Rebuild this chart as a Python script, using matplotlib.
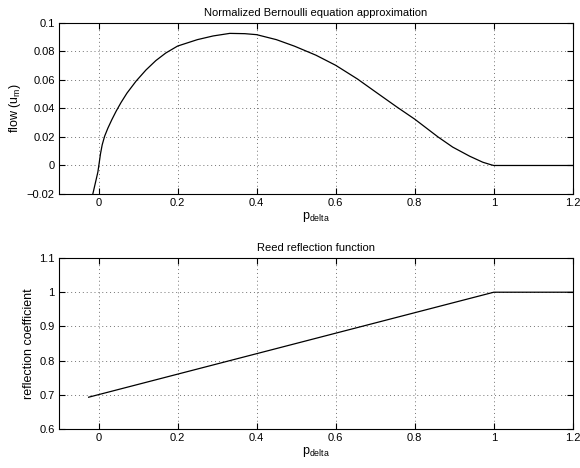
import matplotlib
matplotlib.use("Agg")
import matplotlib.pyplot as plt

# normalized Bernoulli flow
p_flow = [-0.026, -0.0144, -0.0017, 0.0008, 0.005, 0.0093, 0.0154, 0.0237, 0.0338, 0.0446,
          0.057, 0.072, 0.095, 0.12, 0.145, 0.17, 0.2, 0.25, 0.29, 0.332, 0.37, 0.4,
          0.45, 0.496, 0.55, 0.6, 0.655, 0.7, 0.755, 0.8, 0.859, 0.896, 0.939, 0.972,
          0.993, 1.0, 1.2]
u_flow = [-0.035, -0.02, -0.0047, 0.0, 0.0082, 0.0145, 0.0205, 0.0262, 0.0322, 0.0381,
          0.0442, 0.0508, 0.0592, 0.067, 0.0736, 0.0789, 0.0838, 0.0883, 0.0909, 0.0927,
          0.0925, 0.0918, 0.0883, 0.0837, 0.0774, 0.0703, 0.0607, 0.0518, 0.041, 0.0325,
          0.02, 0.0129, 0.0065, 0.0023, 0.0005, 0.0, 0.0]

# reed reflection coefficient
p_refl = [-0.025, 1.0, 1.2]
r_refl = [0.693, 1.0, 1.0]

plt.rcParams['font.family'] = ['Liberation Sans', 'DejaVu Sans']
plt.rcParams['mathtext.default'] = 'regular'
plt.rcParams['font.size'] = 8
plt.rcParams['axes.linewidth'] = 0.8

fig = plt.figure(figsize=(5.8, 4.68), dpi=100)
ax1 = fig.add_axes([0.1017, 0.5855, 0.886, 0.3654])
ax2 = fig.add_axes([0.1017, 0.0833, 0.886, 0.3654])


def matlab_style(ax):
    ax.tick_params(direction='in', top=True, right=True, length=4, width=0.8, pad=3,
                   labelsize=8)
    ax.grid(True, linestyle=(0, (1, 3)), color='0.45', linewidth=0.7)
    ax.set_axisbelow(True)


ax1.plot(p_flow, u_flow, color='k', linewidth=0.9)
ax1.set_xlim(-0.1, 1.2)
ax1.set_ylim(-0.02, 0.1)
ax1.set_xticks([0, 0.2, 0.4, 0.6, 0.8, 1, 1.2])
ax1.set_xticklabels(['0', '0.2', '0.4', '0.6', '0.8', '1', '1.2'])
ax1.set_yticks([-0.02, 0, 0.02, 0.04, 0.06, 0.08, 0.1])
ax1.set_yticklabels(['\u22120.02', '0', '0.02', '0.04', '0.06', '0.08', '0.1'])
ax1.set_title('Normalized Bernoulli equation approximation', fontsize=8, pad=5)
ax1.set_xlabel('p$_{delta}$', fontsize=9, labelpad=1)
ax1.set_ylabel('flow (u$_{m}$)', fontsize=9, labelpad=3)
matlab_style(ax1)

ax2.plot(p_refl, r_refl, color='k', linewidth=0.9)
ax2.set_xlim(-0.1, 1.2)
ax2.set_ylim(0.6, 1.1)
ax2.set_xticks([0, 0.2, 0.4, 0.6, 0.8, 1, 1.2])
ax2.set_xticklabels(['0', '0.2', '0.4', '0.6', '0.8', '1', '1.2'])
ax2.set_yticks([0.6, 0.7, 0.8, 0.9, 1, 1.1])
ax2.set_yticklabels(['0.6', '0.7', '0.8', '0.9', '1', '1.1'])
ax2.set_title('Reed reflection function', fontsize=8, pad=5)
ax2.set_xlabel('p$_{delta}$', fontsize=9, labelpad=1)
ax2.set_ylabel('reflection coefficient', fontsize=9, labelpad=3)
matlab_style(ax2)

fig.savefig('out.png', dpi=100)
